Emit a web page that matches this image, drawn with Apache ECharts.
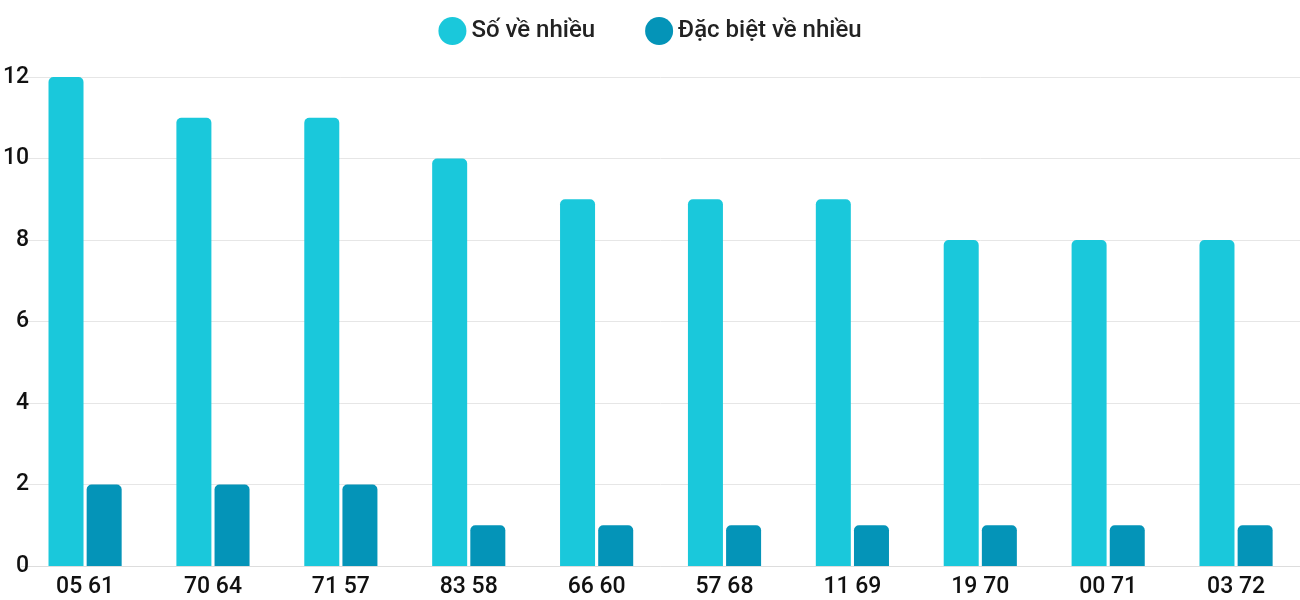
<!DOCTYPE html>
<html>
<head>
<meta charset="utf-8">
<script src="https://cdn.jsdelivr.net/npm/echarts@6/dist/echarts.min.js"></script>
<style>html,body{margin:0;padding:0;background:#fff}#chart{width:1300px;height:600px}</style>
</head>
<body>
<div id="chart"></div>
<script>
const categories = ["05 61", "70 64", "71 57", "83 58", "66 60", "57 68", "11 69", "19 70", "00 71", "03 72"];
const soVeNhieu = [12, 11, 11, 10, 9, 9, 9, 8, 8, 8];
const dacBietVeNhieu = [2, 2, 2, 1, 1, 1, 1, 1, 1, 1];

const chart = echarts.init(document.getElementById("chart"));
chart.setOption({
  animation: false,
  textStyle: { fontFamily: "Roboto" },
  legend: {
    top: 12,
    left: "center",
    icon: "circle",
    itemWidth: 28,
    itemHeight: 28,
    itemGap: 50,
    textStyle: { fontSize: 24, fontWeight: 500, color: "#222" },
    data: ["Số về nhiều", "Đặc biệt về nhiều"],
  },
  grid: { left: 21, width: 1306, top: 77, bottom: 34 },
  xAxis: {
    type: "category",
    data: categories,
    axisTick: { show: false },
    axisLine: { lineStyle: { color: "#ddd" } },
    axisLabel: { fontSize: 23, fontWeight: 500, color: "#111", margin: 10 },
  },
  yAxis: {
    type: "value",
    min: 0,
    max: 12,
    interval: 2,
    axisLabel: { fontSize: 23, fontWeight: 500, color: "#111", margin: -8 },
    splitLine: { lineStyle: { color: "#e6e6e6" } },
  },
  series: [
    {
      name: "Số về nhiều",
      type: "bar",
      data: soVeNhieu,
      barWidth: 35,
      barGap: "9%",
      itemStyle: { color: "#1ac8db", borderRadius: [5, 5, 0, 0] },
    },
    {
      name: "Đặc biệt về nhiều",
      type: "bar",
      data: dacBietVeNhieu,
      barWidth: 35,
      itemStyle: { color: "#0494b8", borderRadius: [5, 5, 0, 0] },
    },
  ],
});
</script>
</body>
</html>
